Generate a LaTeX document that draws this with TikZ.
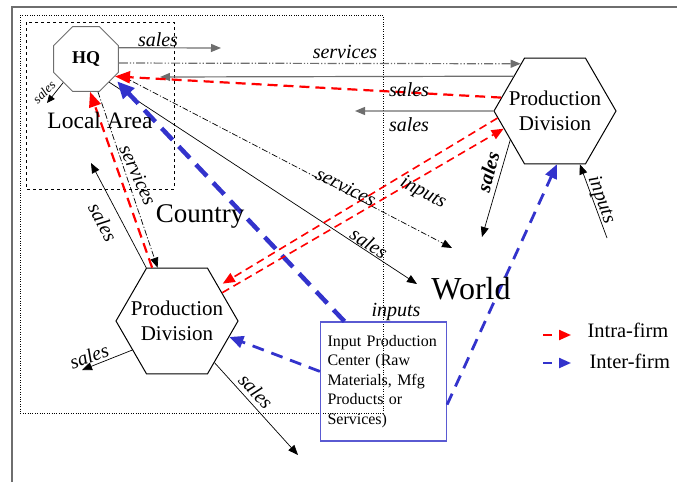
\documentclass[tikz,border=0pt]{standalone}
\usepackage{fontspec}
\setmainfont{Liberation Serif}
\usetikzlibrary{shapes.geometric,arrows.meta}
\definecolor{ifblue}{RGB}{51,51,204}
\definecolor{boxblue}{RGB}{90,90,210}
\definecolor{hqgray}{RGB}{110,110,110}

\tikzset{
  lbl/.style={font=\fontsize{20}{20}\selectfont\itshape, inner sep=0pt},
  arr/.style={-{Triangle[length=10pt,width=8pt]}},
  flowgray/.style={draw=hqgray, line width=1.2pt, arr},
  flow/.style={draw=black, line width=0.7pt, arr},
  ddot/.style={dash pattern=on 9pt off 2pt on 1.2pt off 2pt on 1.2pt off 2pt},
  dshdot/.style={dash pattern=on 6pt off 2pt on 1.2pt off 2pt},
  intrabig/.style={draw=red, line width=2.2pt, dash pattern=on 10pt off 6pt, -{Triangle[length=15pt,width=12pt]}},
  intra/.style={draw=red, line width=1.6pt, dash pattern=on 8pt off 5pt, -{Triangle[length=12pt,width=10pt]}},
  interbig/.style={draw=ifblue, line width=4.5pt, dash pattern=on 16pt off 9pt, -{Triangle[length=17pt,width=15pt]}},
  inter/.style={draw=ifblue, line width=2.8pt, dash pattern=on 12pt off 8pt, -{Triangle[length=14pt,width=12pt]}},
  hexa/.style={draw, line width=1pt, regular polygon, regular polygon sides=6, minimum size=122pt, inner sep=-14pt, align=center, font=\fontsize{21}{25}\selectfont},
}

\begin{document}
\begin{tikzpicture}[x=1pt,y=-1pt]
\useasboundingbox (0,0) rectangle (677,482);

% frames
\draw[hqgray, line width=2pt] (12,482) -- (12,7) -- (677,7);
\draw[dotted] (20,15) rectangle (383,413);
\draw[dashed] (26,22) rectangle (174,189);

% nodes
\node (hq) at (86,59) [draw=hqgray, line width=1pt, regular polygon, regular polygon sides=8, minimum size=70pt, inner sep=0pt, font=\bfseries\fontsize{18}{18}\selectfont] {HQ};
\node (pdr) at (555,111) [hexa] {Production\\Division};
\node (pdl) at (177,321) [hexa] {Production\\Division};
\node (ipc) at (383.5,381.5) [draw=boxblue, line width=1.2pt, minimum height=119pt, text width=112pt, inner xsep=7pt, align=left, font=\fontsize{16}{19.5}\selectfont] {Input Production\\Center (Raw\\Materials, Mfg\\Products or\\Services)};

% free ends
\coordinate (s1) at (221,48);
\coordinate (s2) at (160,77);
\coordinate (s3) at (355,111);
\coordinate (s4) at (91,163);
\coordinate (s5) at (482,237);
\coordinate (s6) at (82,370);
\coordinate (s7) at (298,455);
\coordinate (s8) at (47,103);
\coordinate (s9) at (452,248);
\coordinate (w1) at (417,284);
\coordinate (i1) at (607,238);

% connectors
\draw[flowgray] (hq.19) -- (s1);
\draw[flowgray, ddot] (hq.-7) -- (pdr.126);
\draw[flowgray] (pdr.140) -- (s2);
\draw[flowgray] (pdr.west) -- (s3);
\draw[flow, -{Triangle[length=8pt,width=7pt]}] (hq.-134) -- (s8);
\draw[flow] (hq.-45) -- (w1);
\draw[flow, dshdot, shorten <=6pt] (hq.-25) -- (s9);
\draw[flow, dshdot] (hq.-70) -- (pdl.110);
\draw[flow] (pdl.120) -- (s4);
\draw[flow] (pdl.213) -- (s6);
\draw[flow] (pdl.-48) -- (s7);
\draw[flow] (pdr.213) -- (s5);
\draw[flow] (i1) -- (pdr.-65);

\draw[interbig, shorten >=5pt] (ipc.123) -- (hq.-34);
\draw[inter] (ipc.171) -- (pdl.-17);
\draw[inter] (ipc.-20) -- (pdr.-88);
\draw[intrabig] (pdr.166) -- (hq.-31);
\draw[intrabig] (pdl.115) -- (hq.-83);
\draw[intra, shorten >=5pt] (pdr.187) -- (pdl.40);
\draw[intra] (pdl.32) -- (pdr.199);

% labels
\node[lbl] at (158,40) {sales};
\node[lbl] at (345,52) {services};
\node[lbl] at (409,90) {sales};
\node[lbl] at (409,125) {sales};
\node[lbl, font=\fontsize{13}{13}\selectfont\itshape, rotate=45] at (44,92) {sales};
\node[lbl, rotate=-66] at (138,175) {services};
\node[lbl, rotate=-62] at (103,222) {sales};
\node[lbl, rotate=-27] at (346,187) {services};
\node[lbl, rotate=-33] at (369,243) {sales};
\node[lbl, rotate=-28] at (423,193) {inputs};
\node[lbl, font=\fontsize{20}{20}\selectfont\bfseries\itshape, rotate=75] at (488,172) {sales};
\node[lbl, rotate=-70] at (601,200) {inputs};
\node[lbl, rotate=20] at (89,356) {sales};
\node[lbl, rotate=-47] at (256,391) {sales};
\node[lbl] at (396,312) {inputs};

\node[font=\fontsize{23.5}{23.5}\selectfont] at (100,120) {Local Area};
\node[font=\fontsize{27}{27}\selectfont] at (200,216) {Country};
\node[font=\fontsize{32}{32}\selectfont] at (471,289) {World};

% legend
\coordinate (la) at (543,335);
\coordinate (lb) at (571,335);
\coordinate (lc) at (543,363);
\coordinate (ld) at (571,363);
\draw[red, line width=2.2pt, dash pattern=on 9pt off 7pt, -{Triangle[length=12pt,width=10pt]}] (la) -- (lb);
\draw[ifblue, line width=2.2pt, dash pattern=on 9pt off 7pt, -{Triangle[length=12pt,width=10pt]}] (lc) -- (ld);
\node[anchor=west, font=\fontsize{20.5}{20.5}\selectfont] at (584,330) {Intra-firm};
\node[anchor=west, font=\fontsize{20.5}{20.5}\selectfont] at (586,361) {Inter-firm};
\end{tikzpicture}
\end{document}
